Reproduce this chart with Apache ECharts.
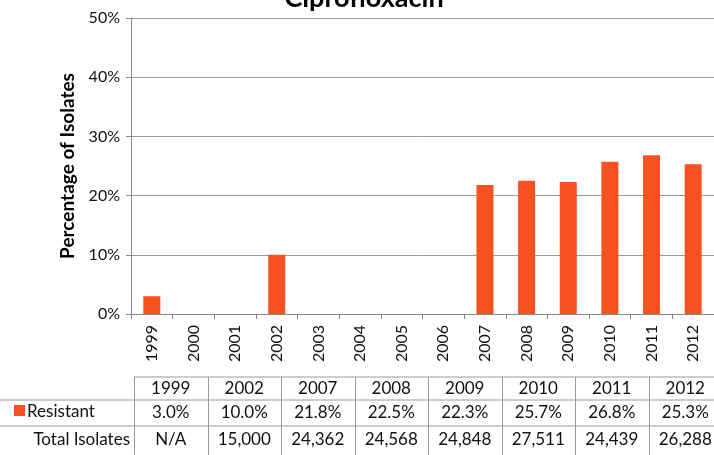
<!DOCTYPE html>
<html>
<head>
<meta charset="utf-8">
<script src="https://cdn.jsdelivr.net/npm/echarts@6/dist/echarts.min.js"></script>
<style>
  html, body { margin: 0; padding: 0; background: #fff; }
  #chart { width: 714px; height: 455px; }
</style>
</head>
<body>
<div id="chart"></div>
<script>
// categories on the x axis
const years = ['1999', '2000', '2001', '2002', '2003', '2004', '2005', '2006',
  '2007', '2008', '2009', '2010', '2011', '2012'];
// percent resistant, null where no data
const resistant = [3.0, null, null, 10.0, null, null, null, null,
  21.8, 22.5, 22.3, 25.7, 26.8, 25.3];
const yTicks = [0, 10, 20, 30, 40, 50];

// data table below the chart
const tableYears = ['1999', '2002', '2007', '2008', '2009', '2010', '2011', '2012'];
const tableResistant = ['3.0%', '10.0%', '21.8%', '22.5%', '22.3%', '25.7%', '26.8%', '25.3%'];
const tableTotal = ['N/A', '15,000', '24,362', '24,568', '24,848', '27,511', '24,439', '26,288'];

const FONT = 'Lato';
const ORANGE = '#F5521F';
const LINE = '#9a9a9a';

const chart = echarts.init(document.getElementById('chart'));

// table geometry
const x0 = 134, colW = 73.5;
const rowY = [377, 400, 426, 470];
const g = [];
// title, cut off at the top like the source
g.push({ type: 'text', x: 364, y: -2, style: { text: 'Ciprofloxacin', font: 'bold 27px ' + FONT, fill: '#000', align: 'center', verticalAlign: 'middle' } });
// horizontal lines
g.push({ type: 'line', shape: { x1: x0, y1: rowY[0], x2: 714, y2: rowY[0] }, style: { stroke: LINE, lineWidth: 1 } });
g.push({ type: 'line', shape: { x1: 0, y1: rowY[1], x2: 714, y2: rowY[1] }, style: { stroke: LINE, lineWidth: 1 } });
g.push({ type: 'line', shape: { x1: 0, y1: rowY[2], x2: 714, y2: rowY[2] }, style: { stroke: LINE, lineWidth: 1 } });
// vertical lines
for (let i = 0; i <= tableYears.length; i++) {
  const x = Math.round(x0 + i * colW) + 0.5;
  g.push({ type: 'line', shape: { x1: x, y1: rowY[0], x2: x, y2: 455 }, style: { stroke: LINE, lineWidth: 1 } });
}
const cellText = (txt, cx, cy) => ({
  type: 'text', x: cx, y: cy,
  style: { text: txt, font: '17px ' + FONT, fill: '#111', align: 'center', verticalAlign: 'middle' }
});
tableYears.forEach((t, i) => g.push(cellText(t, x0 + (i + 0.5) * colW, (rowY[0] + rowY[1]) / 2)));
tableResistant.forEach((t, i) => g.push(cellText(t, x0 + (i + 0.5) * colW, (rowY[1] + rowY[2]) / 2)));
tableTotal.forEach((t, i) => g.push(cellText(t, x0 + (i + 0.5) * colW, 440)));
// row labels
g.push({ type: 'rect', shape: { x: 14, y: 405, width: 11, height: 11 }, style: { fill: ORANGE } });
g.push({ type: 'text', x: 27, y: 412, style: { text: 'Resistant', font: '17px ' + FONT, fill: '#111', verticalAlign: 'middle' } });
g.push({ type: 'text', x: 130, y: 440, style: { text: 'Total Isolates', font: '17px ' + FONT, fill: '#111', align: 'right', verticalAlign: 'middle' } });

const option = {
  animation: false,
  grid: { left: 131, top: 18, width: 593, height: 296 },
  xAxis: {
    type: 'category',
    data: years,
    axisLine: { lineStyle: { color: '#888' } },
    axisTick: { show: true, length: 5, lineStyle: { color: '#888' } },
    axisLabel: {
      rotate: 90, margin: 11, fontFamily: FONT, fontSize: 16, color: '#111', interval: 0
    }
  },
  yAxis: {
    type: 'value',
    min: yTicks[0], max: yTicks[yTicks.length - 1], interval: 10,
    name: 'Percentage of Isolates',
    nameLocation: 'middle',
    nameGap: 53,
    nameTextStyle: { fontFamily: FONT, fontSize: 19, fontWeight: 'bold', color: '#000' },
    axisLine: { show: true, lineStyle: { color: '#888' } },
    axisTick: { show: true, length: 5, lineStyle: { color: '#888' } },
    axisLabel: { formatter: '{value}%', fontFamily: FONT, fontSize: 16, color: '#111', margin: 11 },
    splitLine: { lineStyle: { color: '#9a9a9a' } }
  },
  series: [{
    type: 'bar',
    data: resistant,
    barWidth: 17,
    itemStyle: { color: ORANGE }
  }],
  graphic: g
};

chart.setOption(option);
</script>
</body>
</html>
